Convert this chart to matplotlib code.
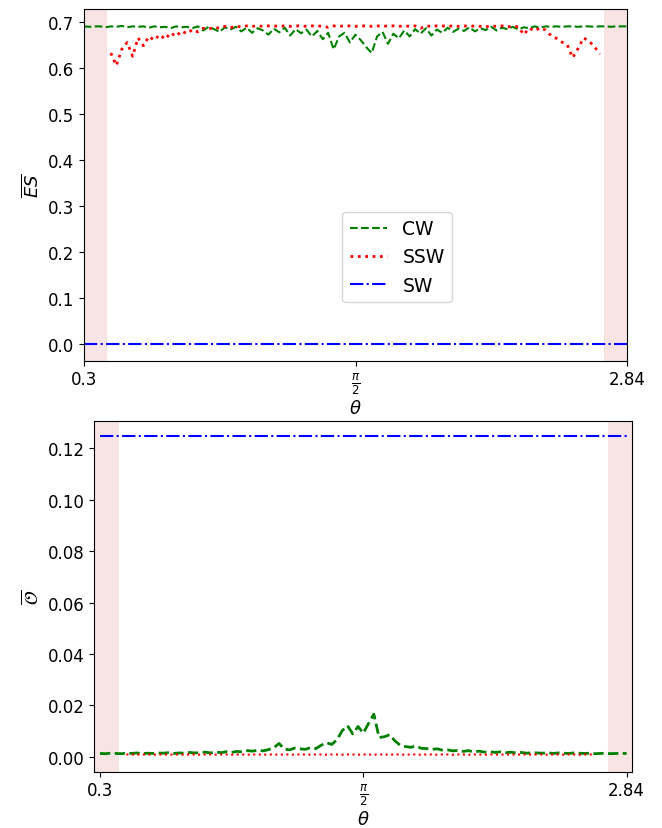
import numpy as np
import matplotlib
matplotlib.use("Agg")
import matplotlib.pyplot as plt

# ---------------- data ----------------
theta_min, theta_max = 0.3, 2.84
n_pts = 101
theta = np.linspace(theta_min, theta_max, n_pts)
nan = np.nan

# Top panel: mean ES
CW_ES = [0.690, 0.689, 0.690, 0.690, 0.688, 0.690, 0.689, 0.691, 0.688, 0.690,
         0.689, 0.690, 0.687, 0.690, 0.688, 0.689, 0.686, 0.690, 0.688, 0.689,
         0.686, 0.690, 0.681, 0.689, 0.684, 0.678, 0.688, 0.683, 0.689, 0.679,
         0.687, 0.676, 0.686, 0.681, 0.672, 0.685, 0.677, 0.687, 0.670, 0.684,
         0.675, 0.683, 0.668, 0.680, 0.662, 0.676, 0.640, 0.668, 0.676, 0.655,
         0.672, 0.660, 0.645, 0.632, 0.668, 0.678, 0.652, 0.674, 0.664, 0.681,
         0.668, 0.684, 0.674, 0.686, 0.670, 0.683, 0.676, 0.687, 0.678, 0.685,
         0.680, 0.688, 0.679, 0.686, 0.682, 0.689, 0.681, 0.687, 0.684, 0.689,
         0.683, 0.688, 0.686, 0.690, 0.687, 0.690, 0.689, 0.690, 0.689, 0.690,
         0.690, 0.689, 0.690, 0.690, 0.689, 0.690, 0.690, 0.689, 0.690, 0.690,
         0.690]
SSW_ES = [nan, nan, nan, nan, nan, 0.632, 0.605, 0.640, 0.655, 0.625,
          0.665, 0.648, 0.668, 0.660, 0.672, 0.662, 0.676, 0.668, 0.680, 0.674,
          0.683, 0.678, 0.686, 0.684, 0.688, 0.686, 0.690, 0.687, 0.690, 0.689,
          0.691, 0.690, 0.691, 0.690, 0.691, 0.691, 0.690, 0.691, 0.690, 0.691,
          0.691, 0.690, 0.691, 0.691, 0.690, 0.688, 0.691, 0.690, 0.691, 0.691,
          0.690, 0.691, 0.691, 0.690, 0.691, 0.690, 0.691, 0.691, 0.690, 0.691,
          0.690, 0.691, 0.686, 0.691, 0.690, 0.691, 0.691, 0.690, 0.691, 0.690,
          0.691, 0.690, 0.691, 0.690, 0.689, 0.691, 0.690, 0.691, 0.689, 0.690,
          0.689, 0.672, 0.686, 0.680, 0.687, 0.682, 0.670, 0.664, 0.656, 0.650,
          0.622, 0.642, 0.665, 0.658, 0.646, 0.630, nan, nan, nan, nan,
          nan]
SW_theta = [0.3, 2.84]
SW_ES = [0.0, 0.0]

# Bottom panel: mean O
CW_O = [0.0013, 0.0012, 0.0014, 0.0013, 0.0012, 0.0014, 0.0013, 0.0015, 0.0012, 0.0014,
        0.0013, 0.0015, 0.0014, 0.0016, 0.0013, 0.0015, 0.0014, 0.0017, 0.0015, 0.0016,
        0.0018, 0.0015, 0.0019, 0.0016, 0.0020, 0.0017, 0.0021, 0.0019, 0.0024, 0.0022,
        0.0026, 0.0023, 0.0028, 0.0035, 0.0052, 0.0030, 0.0027, 0.0034, 0.0031, 0.0029,
        0.0036, 0.0032, 0.0045, 0.0055, 0.0048, 0.0066, 0.0102, 0.0121, 0.0089, 0.0118,
        0.0092, 0.0130, 0.0166, 0.0075, 0.0078, 0.0086, 0.0062, 0.0045, 0.0040, 0.0037,
        0.0042, 0.0033, 0.0032, 0.0029, 0.0031, 0.0026, 0.0027, 0.0023, 0.0025, 0.0021,
        0.0024, 0.0019, 0.0022, 0.0018, 0.0020, 0.0017, 0.0019, 0.0016, 0.0018, 0.0015,
        0.0017, 0.0014, 0.0016, 0.0015, 0.0014, 0.0016, 0.0013, 0.0015, 0.0014, 0.0013,
        0.0015, 0.0014, 0.0013, 0.0014, 0.0012, 0.0013, 0.0014, 0.0012, 0.0013, 0.0013,
        0.0013]
SSW_O = [nan, nan, nan, nan, nan, 0.0009, 0.0009, 0.0008, 0.0009, 0.0009,
         0.0008, 0.0009, 0.0009, 0.0008, 0.0009, 0.0009, 0.0008, 0.0009, 0.0009, 0.0008,
         0.0009, 0.0009, 0.0008, 0.0009, 0.0009, 0.0008, 0.0009, 0.0009, 0.0008, 0.0009,
         0.0009, 0.0008, 0.0009, 0.0009, 0.0008, 0.0009, 0.0009, 0.0008, 0.0009, 0.0009,
         0.0008, 0.0009, 0.0009, 0.0008, 0.0009, 0.0009, 0.0008, 0.0009, 0.0009, 0.0008,
         0.0009, 0.0009, 0.0008, 0.0009, 0.0009, 0.0008, 0.0009, 0.0009, 0.0008, 0.0009,
         0.0009, 0.0008, 0.0009, 0.0009, 0.0008, 0.0009, 0.0009, 0.0008, 0.0009, 0.0009,
         0.0008, 0.0009, 0.0009, 0.0008, 0.0009, 0.0009, 0.0008, 0.0009, 0.0009, 0.0008,
         0.0009, 0.0009, 0.0008, 0.0009, 0.0009, 0.0008, 0.0009, 0.0009, 0.0008, 0.0009,
         0.0009, 0.0008, 0.0009, 0.0009, 0.0010, nan, nan, nan, nan, nan,
         nan]
SW_O = [0.125, 0.125]

xtick_vals = [0.3, np.pi / 2, 2.84]
xtick_labels = ["0.3", r"$\frac{\pi}{2}$", "2.84"]
top_yticks = [0.0, 0.1, 0.2, 0.3, 0.4, 0.5, 0.6, 0.7]
bot_yticks = [0.00, 0.02, 0.04, 0.06, 0.08, 0.10, 0.12]
series_names = ["CW", "SSW", "SW"]

# ---------------- plot ----------------
W, H = 662, 829
fig = plt.figure(figsize=(W / 100, H / 100), dpi=100)

def px_axes(left, top, right, bottom):
    return fig.add_axes([left / W, 1 - bottom / H, (right - left) / W, (bottom - top) / H])

ax1 = px_axes(83.7, 10, 627, 361.7)
ax2 = px_axes(94.3, 421.7, 632.3, 772.7)

shade = "#f8e4e4"
lw = 1.5

# top
ax1.axvspan(0.3, 0.408, color=shade, lw=0, zorder=0)
ax1.axvspan(2.732, 2.84, color=shade, lw=0, zorder=0)
ax1.plot(theta, CW_ES, "--", color="green", lw=lw, label=series_names[0])
ax1.plot(theta, SSW_ES, ":", color="red", lw=2, label=series_names[1])
ax1.plot(SW_theta, SW_ES, "-.", color="blue", lw=lw, label=series_names[2])
ax1.set_xlim(theta_min, theta_max)
ax1.set_ylim(-0.0363, 0.7277)
ax1.set_xticks(xtick_vals)
ax1.set_xticklabels(xtick_labels)
ax1.set_yticks(top_yticks)
ax1.set_yticklabels([f"{v:.1f}" for v in top_yticks])
ax1.set_xlabel(r"$\theta$", fontsize=13, labelpad=2)
ax1.set_ylabel(r"$\overline{ES}$", fontsize=13)
ax1.tick_params(labelsize=12)
ax1.legend(loc="center", bbox_to_anchor=(0.577, 0.295), fontsize=13.5)

# bottom
ax2.axvspan(0.2725, 0.392, color=shade, lw=0, zorder=0)
ax2.axvspan(2.75, 2.8675, color=shade, lw=0, zorder=0)
ax2.plot(theta, CW_O, "--", color="green", lw=2, label=series_names[0])
ax2.plot(theta, SSW_O, ":", color="red", lw=lw, label=series_names[1])
ax2.plot(SW_theta, SW_O, "-.", color="blue", lw=lw, label=series_names[2])
ax2.set_xlim(0.2725, 2.8675)
ax2.set_ylim(-0.0058, 0.1308)
ax2.set_xticks(xtick_vals)
ax2.set_xticklabels(xtick_labels)
ax2.set_yticks(bot_yticks)
ax2.set_yticklabels([f"{v:.2f}" for v in bot_yticks])
ax2.set_xlabel(r"$\theta$", fontsize=13, labelpad=2)
ax2.set_ylabel(r"$\overline{\mathcal{O}}$", fontsize=13)
ax2.tick_params(labelsize=12)

fig.savefig("out.png", dpi=100)
